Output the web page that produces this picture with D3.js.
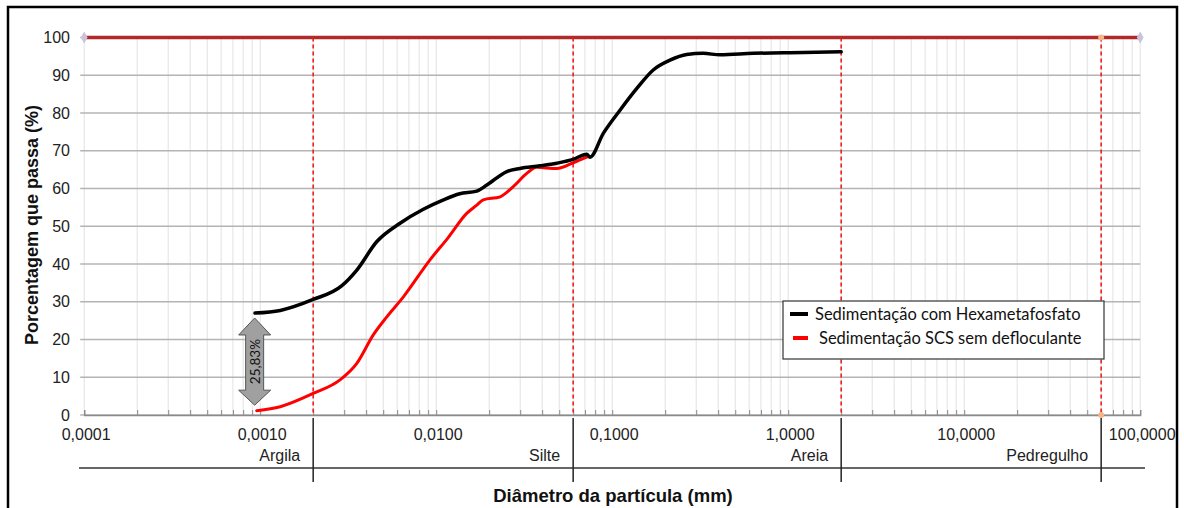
<!DOCTYPE html>
<html>
<head>
<meta charset="utf-8">
<script src="https://cdn.jsdelivr.net/npm/d3@7"></script>
<style>
  body { margin: 0; background: #fff; }
  svg { display: block; }
</style>
</head>
<body>
<script>
// diâmetro (mm) e % que passa - leitura da curva
var diamHexa = [0.000934, 0.0013, 0.002, 0.0029, 0.00354, 0.00459, 0.00623, 0.00845, 0.011, 0.0136, 0.017, 0.0194, 0.0252, 0.0299, 0.0389, 0.0484, 0.06, 0.0717, 0.0748, 0.089, 0.111, 0.138, 0.171, 0.213, 0.265, 0.329, 0.41, 0.634, 1.22, 2.0]
var passaHexa = [27.0, 27.7, 30.6, 34.2, 38.4, 45.9, 50.8, 54.5, 57.0, 58.6, 59.3, 60.9, 64.5, 65.3, 66.0, 66.7, 67.7, 69.1, 68.3, 74.6, 80.8, 86.5, 91.4, 94.0, 95.5, 95.8, 95.4, 95.8, 96.0, 96.2]

var diamSCS = [0.000955, 0.0013, 0.002, 0.00284, 0.00354, 0.0044, 0.00524, 0.00651, 0.00922, 0.0117, 0.0149, 0.017, 0.0185, 0.0231, 0.0274, 0.0327, 0.0372, 0.0484, 0.06, 0.0717]
var passaSCS = [1.15, 2.2, 5.7, 9.3, 13.7, 21.3, 26.0, 31.3, 41.1, 47.0, 53.4, 55.6, 57.0, 57.8, 60.5, 64.0, 65.6, 65.3, 66.8, 68.3]

// limites das frações (mm)
var limites = [0.002, 0.06, 2, 60]
var fracoes = ["Argila", "Silte", "Areia", "Pedregulho"]

var xTicks = [0.0001, 0.001, 0.01, 0.1, 1, 10, 100]
var xTickLabels = ["0,0001", "0,0010", "0,0100", "0,1000", "1,0000", "10,0000", "100,0000"]
var yTicks = [0, 10, 20, 30, 40, 50, 60, 70, 80, 90, 100]

var legendas = ["Sedimentação com Hexametafosfato", "Sedimentação SCS sem defloculante"]
var diferenca = "25,83%"
var setaDiam = 0.00093
var setaDe = 2.6, setaAte = 25.7

var width = 1184, height = 508

var svg = d3.select("body")
    .append("svg")
        .attr("width", width)
        .attr("height", height)

var x = d3.scaleLog()
    .domain([0.0001, 100])
    .range([84.2, 1140.2])

var y = d3.scaleLinear()
    .domain([0, 100])
    .range([415, 37.5])

// moldura
svg.append("rect")
    .attr("x", 8).attr("y", 7)
    .attr("width", 1169).attr("height", 520)
    .attr("fill", "none")
    .attr("stroke", "#000")
    .attr("stroke-width", 2.5)

// grade vertical (secundária)
var minors = []
xTicks.slice(0, -1).forEach(function(dec) {
    for (var k = 1; k < 10; k++) minors.push(dec * k)
})
minors.push(100)

svg.append("g")
    .selectAll("line")
    .data(minors)
    .enter()
    .append("line")
        .attr("x1", d => x(d)).attr("x2", d => x(d))
        .attr("y1", y(100)).attr("y2", y(0))
        .attr("stroke", "#e2e2e2")
        .attr("stroke-width", 1)

// grade horizontal
svg.append("g")
    .selectAll("line")
    .data(yTicks)
    .enter()
    .append("line")
        .attr("x1", x(0.0001) - 4).attr("x2", x(100))
        .attr("y1", d => y(d)).attr("y2", d => y(d))
        .attr("stroke", "#b4b4b4")
        .attr("stroke-width", 1.3)

// eixo x
var eixoX = svg.append("g")
    .attr("transform", "translate(0," + y(0) + ")")
    .call(d3.axisBottom(x).tickValues(minors).tickSize(-5).tickFormat(""))
eixoX.select(".domain").attr("stroke", "#8a8a8a").attr("stroke-width", 1.3)
eixoX.selectAll(".tick line").attr("stroke", "#8a8a8a")

svg.append("g")
    .selectAll("text")
    .data(xTicks)
    .enter()
    .append("text")
        .attr("x", (d, i) => x(d) + 2)
        .attr("y", 440)
        .attr("text-anchor", "middle")
        .attr("font-family", "Liberation Sans, Arial, sans-serif")
        .attr("font-size", 16)
        .attr("fill", "#222")
        .text((d, i) => xTickLabels[i])

// rótulos eixo y
svg.append("g")
    .selectAll("text")
    .data(yTicks)
    .enter()
    .append("text")
        .attr("x", 70)
        .attr("y", d => y(d) + 5.5)
        .attr("text-anchor", "end")
        .attr("font-family", "Liberation Sans, Arial, sans-serif")
        .attr("font-size", 16)
        .attr("fill", "#222")
        .text(d => d)

// linha 100%
svg.append("line")
    .attr("x1", x(0.0001)).attr("x2", x(100))
    .attr("y1", y(100)).attr("y2", y(100))
    .attr("stroke", "#b02a2a")
    .attr("stroke-width", 3.5)

svg.append("g")
    .selectAll("path")
    .data([0.0001, 100])
    .enter()
    .append("path")
        .attr("d", d3.symbol(d3.symbolDiamond, 40))
        .attr("transform", d => "translate(" + x(d) + "," + y(100) + ")")
        .attr("fill", "#cbc3dc")

// limites das frações (tracejado)
svg.append("g")
    .selectAll("line")
    .data(limites)
    .enter()
    .append("line")
        .attr("x1", d => x(d)).attr("x2", d => x(d))
        .attr("y1", y(100)).attr("y2", y(0))
        .attr("stroke", "#f01e1e")
        .attr("stroke-width", 1.6)
        .attr("stroke-dasharray", "4,3")

svg.append("g")
    .selectAll("circle")
    .data([100, 0])
    .enter()
    .append("circle")
        .attr("cx", x(60))
        .attr("cy", d => y(d))
        .attr("r", 3)
        .attr("fill", "#f5b48a")

// faixa das frações
svg.append("line")
    .attr("x1", 79).attr("x2", 1145)
    .attr("y1", 468).attr("y2", 468)
    .attr("stroke", "#333")
    .attr("stroke-width", 1.3)

svg.append("g")
    .selectAll("line")
    .data(limites)
    .enter()
    .append("line")
        .attr("x1", d => x(d)).attr("x2", d => x(d))
        .attr("y1", 418).attr("y2", 482)
        .attr("stroke", "#222")
        .attr("stroke-width", 1.5)

svg.append("g")
    .selectAll("text")
    .data(limites)
    .enter()
    .append("text")
        .attr("x", d => x(d) - 13)
        .attr("y", 461)
        .attr("text-anchor", "end")
        .attr("font-family", "Liberation Sans, Arial, sans-serif")
        .attr("font-size", 16)
        .attr("fill", "#222")
        .text((d, i) => fracoes[i])

// curvas
var linha = d3.line()
    .x(d => x(d[0]))
    .y(d => y(d[1]))
    .curve(d3.curveMonotoneX)

svg.append("path")
    .datum(d3.zip(diamSCS, passaSCS))
    .attr("fill", "none")
    .attr("stroke", "#ff0000")
    .attr("stroke-width", 3)
    .attr("stroke-linecap", "round")
    .attr("d", linha)

svg.append("path")
    .datum(d3.zip(diamHexa, passaHexa))
    .attr("fill", "none")
    .attr("stroke", "#000")
    .attr("stroke-width", 3.5)
    .attr("stroke-linecap", "round")
    .attr("stroke-linejoin", "round")
    .attr("d", linha)

// seta dupla
var sx = x(setaDiam), yTop = y(setaAte), yBot = y(setaDe)
var seta = [
    [sx, yTop], [sx + 16, yTop + 17], [sx + 9, yTop + 17],
    [sx + 9, yBot - 15], [sx + 16, yBot - 15], [sx, yBot],
    [sx - 16, yBot - 15], [sx - 9, yBot - 15], [sx - 9, yTop + 17],
    [sx - 16, yTop + 17]
]
svg.append("path")
    .attr("d", d3.line()(seta) + "Z")
    .attr("fill", "#a0a0a0")
    .attr("stroke", "#555")
    .attr("stroke-width", 1)

svg.append("text")
    .attr("transform", "translate(" + (sx + 5) + "," + ((yTop + yBot) / 2) + ") rotate(-90)")
    .attr("text-anchor", "middle")
    .attr("font-family", "Lato, sans-serif")
    .attr("font-size", 13.5)
    .attr("fill", "#111")
    .text(diferenca)

// legenda
var leg = svg.append("g")
leg.append("rect")
    .attr("x", 783).attr("y", 301)
    .attr("width", 321).attr("height", 58)
    .attr("fill", "#fff")
    .attr("stroke", "#333")
    .attr("stroke-width", 1.2)

var coresLeg = ["#000", "#ff0000"]
legendas.forEach(function(t, i) {
    leg.append("line")
        .attr("x1", 790 + i * 3).attr("x2", 808)
        .attr("y1", 314 + i * 24).attr("y2", 314 + i * 24)
        .attr("stroke", coresLeg[i])
        .attr("stroke-width", 4)
    leg.append("text")
        .attr("x", 815 + i * 4)
        .attr("y", 319.5 + i * 24)
        .attr("font-family", "Lato, sans-serif")
        .attr("font-size", 16.5)
        .attr("fill", "#111")
        .text(t)
})

// títulos dos eixos
svg.append("text")
    .attr("x", 613).attr("y", 502)
    .attr("text-anchor", "middle")
    .attr("font-family", "Liberation Sans, Arial, sans-serif")
    .attr("font-weight", "bold")
    .attr("font-size", 18.5)
    .attr("fill", "#111")
    .text("Diâmetro da partícula (mm)")

svg.append("text")
    .attr("transform", "translate(38,225) rotate(-90)")
    .attr("text-anchor", "middle")
    .attr("font-family", "Liberation Sans, Arial, sans-serif")
    .attr("font-weight", "bold")
    .attr("font-size", 18)
    .attr("fill", "#111")
    .text("Porcentagem que passa (%)")
</script>
</body>
</html>
